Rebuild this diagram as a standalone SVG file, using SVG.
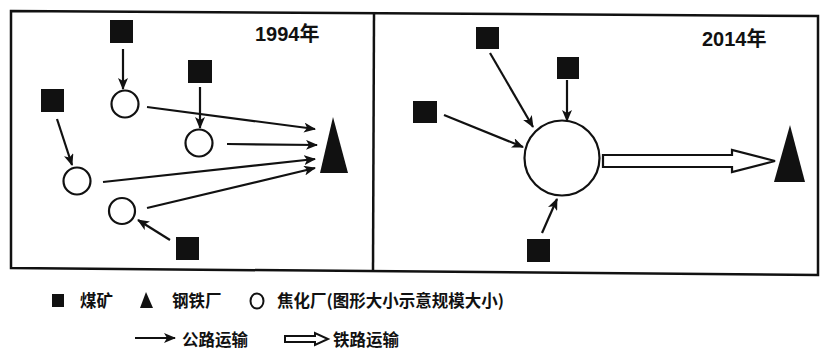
<svg xmlns="http://www.w3.org/2000/svg" width="822" height="352" viewBox="0 0 822 352">
<defs>
<style>
.frame{fill:none;stroke:#111;stroke-width:2.5}
.mine{fill:#111}
.plant{fill:#fff;stroke:#111;stroke-width:2.2}
.steel{fill:#111}
.road{fill:none;stroke:#111;stroke-width:2.2;marker-end:url(#ah)}
.rail{fill:#fff;stroke:#111;stroke-width:2.2;stroke-linejoin:miter}
.t{font-family:"Liberation Sans","Noto Sans CJK SC",sans-serif;fill:#111}
.year{font-size:20px;font-weight:bold}
.leg{font-size:16.5px;font-weight:bold;font-family:"Noto Sans CJK SC","Liberation Sans",sans-serif}
</style>
<marker id="ah" markerWidth="12" markerHeight="10" refX="11" refY="5" orient="auto" markerUnits="userSpaceOnUse">
<path d="M0,0 L12,5 L0,10 L3,5 z" fill="#111"/>
</marker>
</defs>
<rect width="822" height="352" fill="#fff"/>
<g id="frame">
<polygon class="frame" points="11,11 818,16 818,275 11,268"/>
<line class="frame" x1="374" y1="13" x2="373" y2="271"/>
</g>
<text class="t year" x="255" y="41">1994年</text>
<text class="t year" x="702" y="46">2014年</text>
<g id="left-nodes">
<g id="mine1"><rect class="mine" x="110" y="20" width="23" height="23"/></g>
<g id="mine2"><rect class="mine" x="188" y="60" width="24" height="23"/></g>
<g id="mine3"><rect class="mine" x="41" y="89" width="23" height="23"/></g>
<g id="mine4"><rect class="mine" x="176" y="237" width="23" height="23"/></g>
<g id="plantA"><circle class="plant" cx="125" cy="104" r="13.5"/></g>
<g id="plantB"><circle class="plant" cx="199" cy="143" r="13.5"/></g>
<g id="plantC"><circle class="plant" cx="77" cy="181" r="13.5"/></g>
<g id="plantD"><circle class="plant" cx="122" cy="211" r="13"/></g>
<g id="steel1"><polygon class="steel" points="333,117 348,173 320,173"/></g>
</g>
<g id="right-nodes">
<g id="mine5"><rect class="mine" x="476" y="27" width="23" height="22"/></g>
<g id="mine6"><rect class="mine" x="557" y="57" width="22" height="22"/></g>
<g id="mine7"><rect class="mine" x="413" y="101" width="24" height="22"/></g>
<g id="mine8"><rect class="mine" x="527" y="239" width="23" height="23"/></g>
<g id="plantBig"><circle class="plant" cx="562" cy="158" r="37.5"/></g>
<g id="steel2"><polygon class="steel" points="790,125 805,182 774,182"/></g>
</g>
<g id="connectors">
<line class="road" x1="123" y1="49" x2="123" y2="89"/>
<line class="road" x1="200" y1="87" x2="200" y2="128"/>
<line class="road" x1="57" y1="119" x2="72" y2="165"/>
<line class="road" x1="170" y1="240" x2="138" y2="220"/>
<line class="road" x1="147" y1="107" x2="315" y2="129"/>
<line class="road" x1="227" y1="144" x2="317" y2="145"/>
<line class="road" x1="103" y1="182" x2="315" y2="159"/>
<line class="road" x1="147" y1="208" x2="315" y2="168"/>
<line class="road" x1="490" y1="53" x2="533" y2="127"/>
<line class="road" x1="567" y1="80" x2="567" y2="121"/>
<line class="road" x1="444" y1="115" x2="523" y2="147"/>
<line class="road" x1="542" y1="233" x2="557" y2="199"/>
<polygon class="rail" points="603,155 732,155 732,150 775,161 732,172 732,167 603,167"/>
</g>
<g id="legend">
<rect class="mine" x="52" y="294" width="12" height="13"/>
<text class="t leg" x="80" y="307">煤矿</text>
<polygon class="steel" points="146,292 153,308 140,308"/>
<text class="t leg" x="172" y="307">钢铁厂</text>
<ellipse class="plant" cx="257" cy="301" rx="6.5" ry="7.5" style="stroke-width:2"/>
<text class="t leg" x="277" y="307">焦化厂(图形大小示意规模大小)</text>
<line class="road" x1="135" y1="338" x2="175" y2="338"/>
<text class="t leg" x="182" y="346">公路运输</text>
<polygon class="rail" points="285,336 315,336 315,333 328,339 315,345 315,342 285,342" style="stroke-width:2"/>
<text class="t leg" x="333" y="346">铁路运输</text>
</g>
</svg>
